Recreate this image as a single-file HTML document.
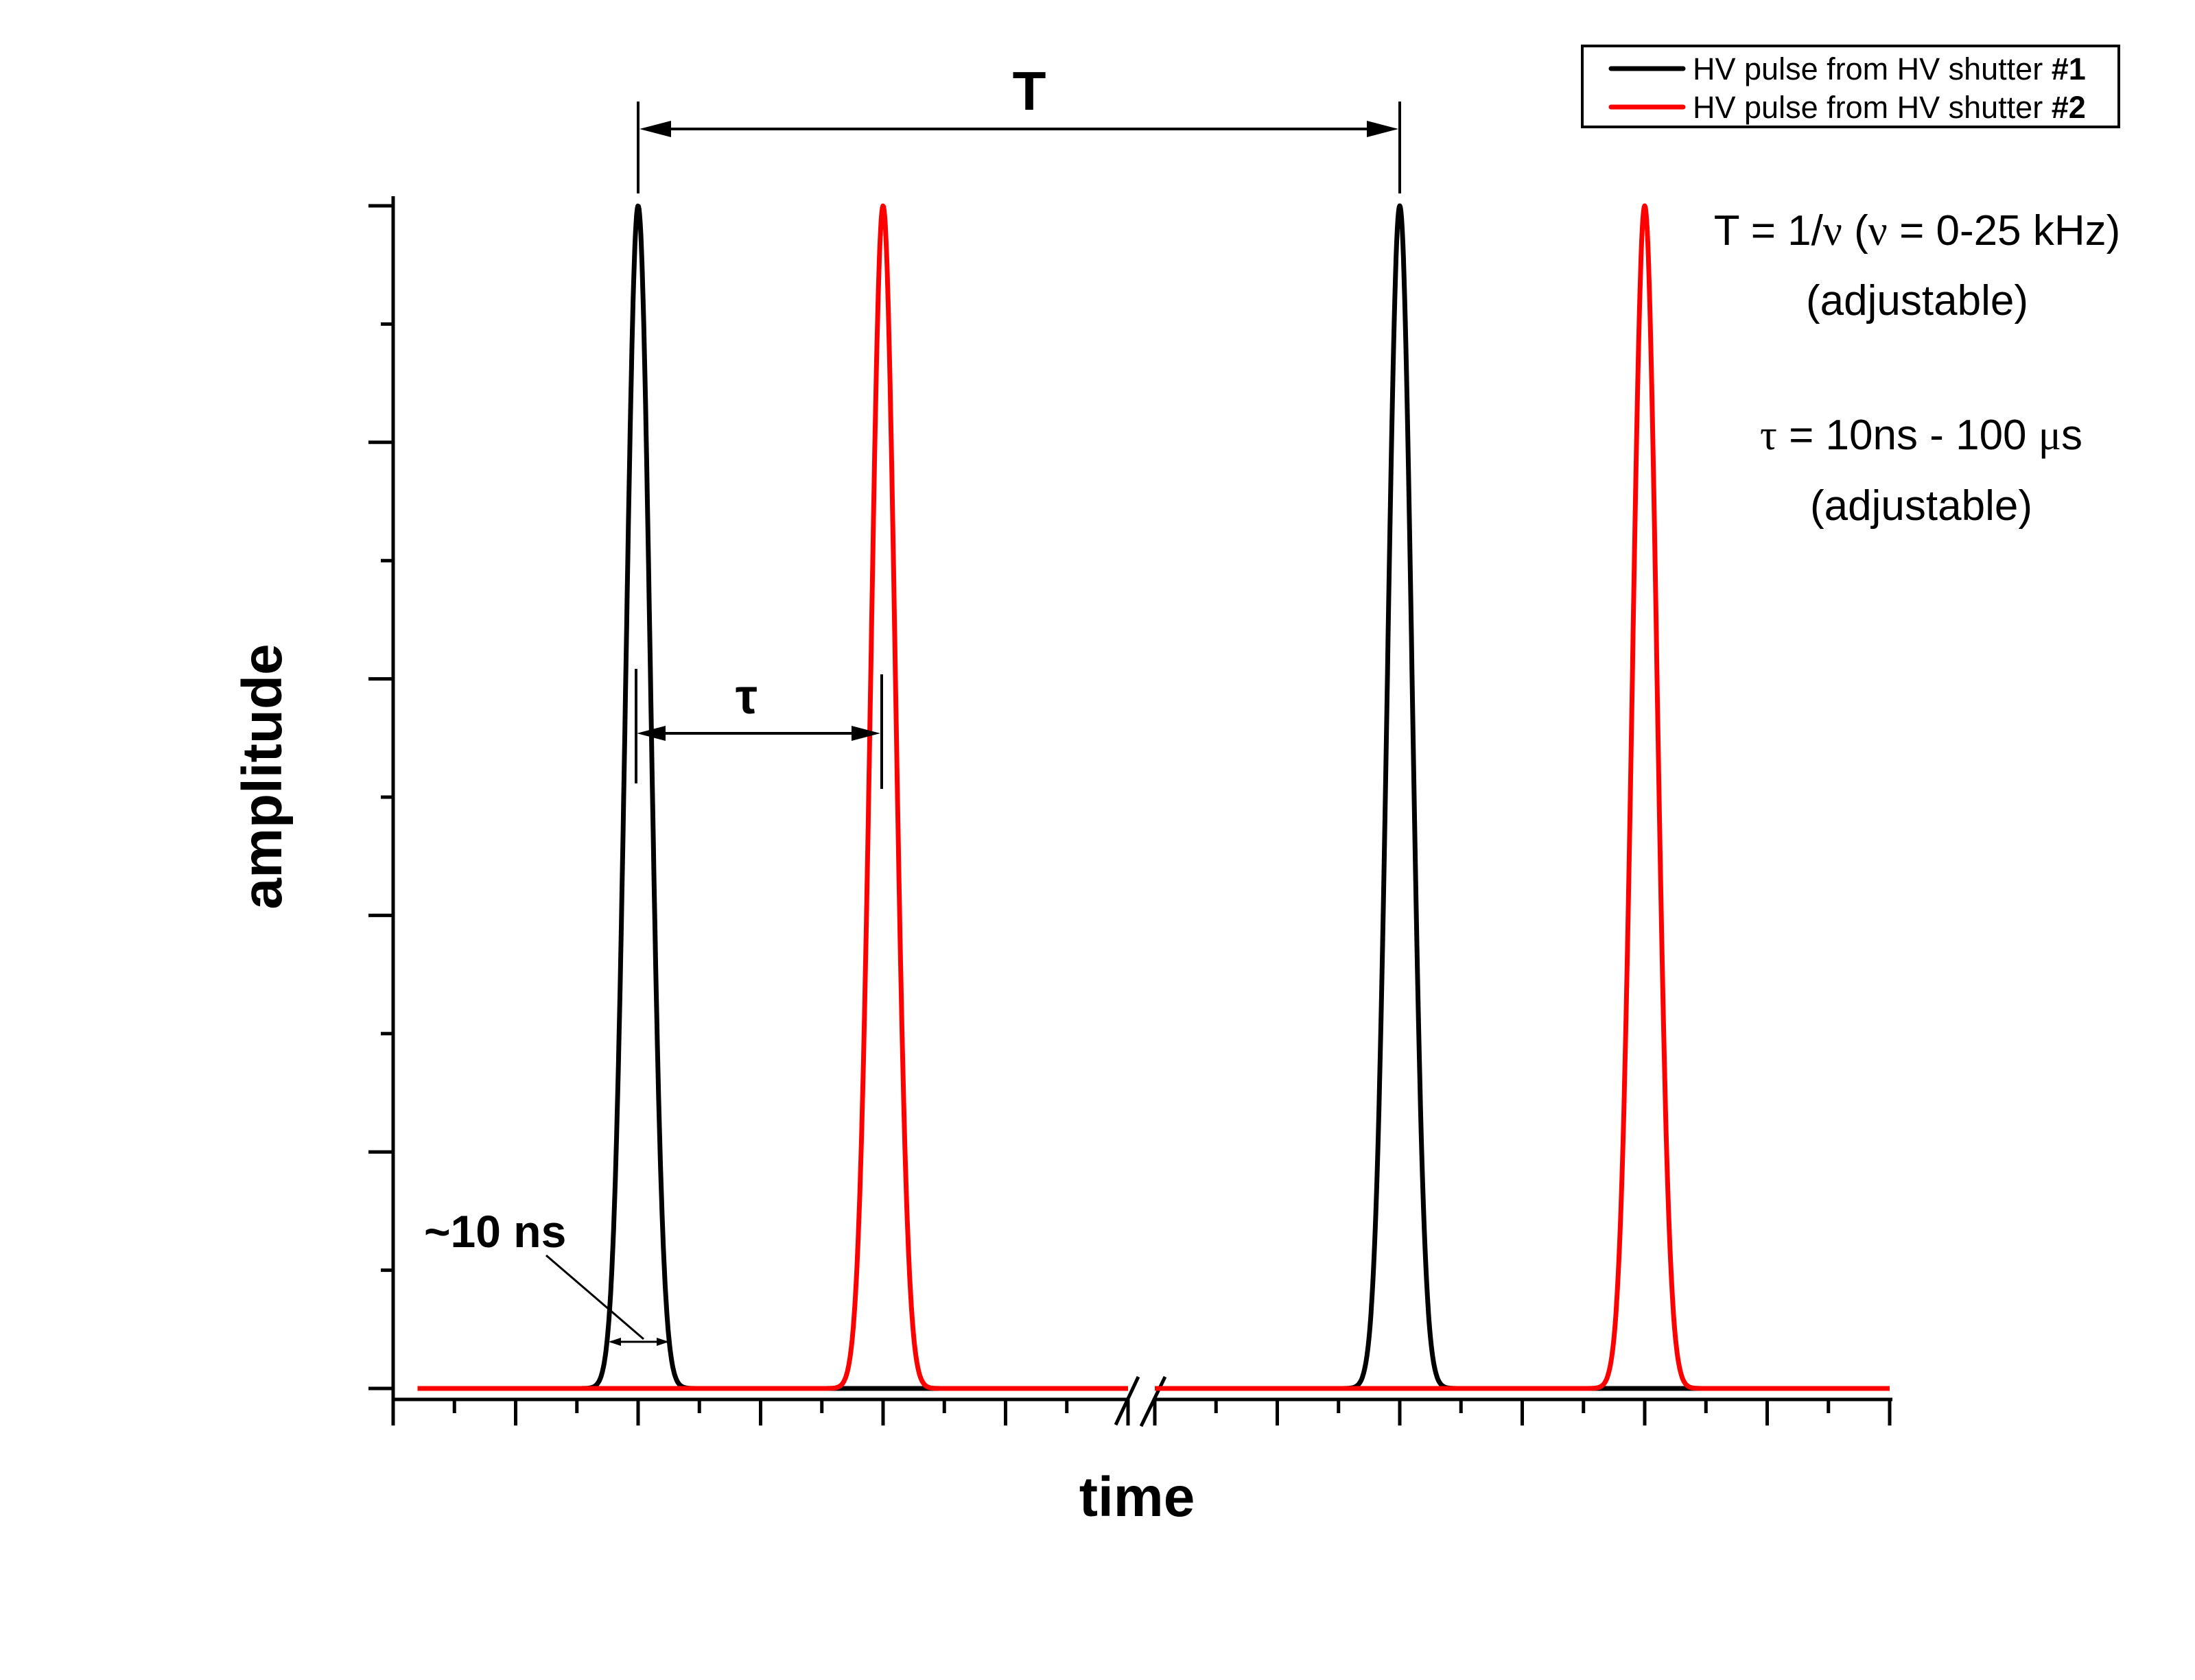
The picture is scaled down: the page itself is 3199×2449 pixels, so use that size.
<!DOCTYPE html>
<html><head><meta charset="utf-8"><style>
html,body{margin:0;padding:0;background:#fff}
svg{display:block}
text{font-family:"Liberation Sans",sans-serif}
</style></head><body>
<svg id="chart" width="3199" height="2449" viewBox="0 0 3199 2449" xmlns="http://www.w3.org/2000/svg">
<rect width="3199" height="2449" fill="#fff"/>
<g id="axes"></g>
<g id="series"></g>
<g id="annot">
  <!-- T period arrow -->
  <line x1="930" y1="148" x2="930" y2="282" stroke="#000" stroke-width="4"/>
  <line x1="2040" y1="148" x2="2040" y2="282" stroke="#000" stroke-width="4"/>
  <line x1="975" y1="188" x2="1995" y2="188" stroke="#000" stroke-width="4"/>
  <polygon points="932,188 978,176 978,200" fill="#000"/>
  <polygon points="2038,188 1992,176 1992,200" fill="#000"/>
  <text x="1500" y="160" font-size="80" font-weight="bold" text-anchor="middle">T</text>
  <!-- tau delay arrow -->
  <line x1="927" y1="975" x2="927" y2="1142" stroke="#000" stroke-width="4"/>
  <line x1="1285" y1="983" x2="1285" y2="1150" stroke="#000" stroke-width="4"/>
  <line x1="960" y1="1069" x2="1250" y2="1069" stroke="#000" stroke-width="4"/>
  <polygon points="928,1069 970,1058 970,1080" fill="#000"/>
  <polygon points="1283,1069 1241,1058 1241,1080" fill="#000"/>
  <text x="1088" y="1040" font-size="72" font-weight="bold" text-anchor="middle" font-family="'DejaVu Serif',serif">τ</text>
  <!-- 10 ns width -->
  <text x="618" y="1818" font-size="66" font-weight="bold">~10 ns</text>
  <line x1="796" y1="1830" x2="938" y2="1952" stroke="#000" stroke-width="3"/>
  <line x1="890" y1="1956" x2="972" y2="1956" stroke="#000" stroke-width="3"/>
  <polygon points="887,1956 905,1950 905,1962" fill="#000"/>
  <polygon points="975,1956 957,1950 957,1962" fill="#000"/>
  <!-- right side text -->
  <text x="2794" y="357" font-size="62" text-anchor="middle">T = 1/<tspan font-family="'Liberation Serif',serif">ν</tspan>  (<tspan font-family="'Liberation Serif',serif">ν</tspan> = 0-25 kHz)</text>
  <text x="2794" y="459" font-size="62" text-anchor="middle">(adjustable)</text>
  <text x="2800" y="655" font-size="62" text-anchor="middle"><tspan font-family="'Liberation Serif',serif">τ</tspan> = 10ns - 100 <tspan font-family="'Liberation Serif',serif">μ</tspan>s</text>
  <text x="2800" y="758" font-size="62" text-anchor="middle">(adjustable)</text>
  <!-- axis titles -->
  <text x="0" y="0" font-size="82" font-weight="bold" text-anchor="middle" transform="translate(410,1132) rotate(-90)">amplitude</text>
  <text x="1657" y="2210" font-size="82" font-weight="bold" text-anchor="middle">time</text>
</g>
<g id="legend">
  <rect x="2306" y="67" width="782" height="118" fill="#fff" stroke="#000" stroke-width="4"/>
  <line x1="2348" y1="100" x2="2453" y2="100" stroke="#000" stroke-width="7" stroke-linecap="round"/>
  <text x="2467" y="116" font-size="45">HV pulse from HV shutter <tspan font-weight="bold">#1</tspan></text>
  <line x1="2348" y1="156" x2="2453" y2="156" stroke="#ff0000" stroke-width="7" stroke-linecap="round"/>
  <text x="2467" y="172" font-size="45">HV pulse from HV shutter <tspan font-weight="bold">#2</tspan></text>
</g>
</svg>
<script>
// ---- data ----
const pulseCenters1 = [2, 9];      // shutter #1 pulse positions (tick units)
const pulseCenters2 = [4, 11];     // shutter #2 pulse positions
const pulseAmps1 = [1, 1];
const pulseAmps2 = [1, 1];
const pulseSigma = [0.1];
const segmentsX = [[0.2, 6], [7, 13]]; // plotted ranges, broken axis
const xMajorTicks = [0, 1, 2, 3, 4, 5, 6, 7, 8, 9, 10, 11, 12, 13];
const yTicks = [0, 0.1, 0.2, 0.3, 0.4, 0.5, 0.6, 0.7, 0.8, 0.9, 1.0];

// ---- scales ----
function xs(v){ return v <= 6.5 ? 573 + 178.5 * v : 1683 + 178.5 * (v - 7); }
function ys(v){ return 2024 - 1724 * v; }

const NS = 'http://www.w3.org/2000/svg';
const axes = document.getElementById('axes');
const series = document.getElementById('series');
function mk(tag, attrs, parent){
  const e = document.createElementNS(NS, tag);
  for (const k in attrs) e.setAttribute(k, attrs[k]);
  parent.appendChild(e);
  return e;
}

// y axis
let yl = mk('line', {x1:573, y1:286, x2:573, y2:2042, stroke:'#000', 'stroke-width':5}, axes);


yTicks.forEach((t, i) => {
  const major = i % 2 === 0;
  const tk = mk('line', {x1: major ? 537 : 555, y1: ys(t), x2: 573, y2: ys(t), stroke:'#000', 'stroke-width':5}, axes);
  
  
});
// x axis segments
[[571, 1644], [1683, 2758]].forEach(s => {
  const l = mk('line', {x1:s[0], y1:2040, x2:s[1], y2:2040, stroke:'#000', 'stroke-width':5}, axes);
  
  
});
xMajorTicks.forEach(t => {
  const tk = mk('line', {x1: xs(t), y1:2040, x2: xs(t), y2:2078, stroke:'#000', 'stroke-width':5}, axes);
  
  
  if (t !== 6 && t !== 13) {
    const m = mk('line', {x1: xs(t + 0.5), y1:2040, x2: xs(t + 0.5), y2:2060, stroke:'#000', 'stroke-width':5}, axes);
    
    
  }
});
// break marks
[[1626, 2077, 1659, 2007], [1663, 2079, 1698, 2007]].forEach(b => {
  const l = mk('line', {x1:b[0], y1:b[1], x2:b[2], y2:b[3], stroke:'#000', 'stroke-width':5}, axes);
  
  
});

// series
function curve(centers, amps, color, name){
  segmentsX.forEach(seg => {
    let d = '';
    const n = 1200;
    for (let i = 0; i <= n; i++){
      const x = seg[0] + (seg[1] - seg[0]) * i / n;
      let y = 0;
      centers.forEach((c, j) => { y += amps[j] * Math.exp(-Math.pow(x - c, 2) / (2 * pulseSigma[0] * pulseSigma[0])); });
      d += (i ? 'L' : 'M') + xs(x).toFixed(1) + ',' + ys(y).toFixed(1);
    }
    const p = mk('path', {d: d, fill:'none', stroke: color, 'stroke-width':7, 'stroke-linejoin':'round'}, series);
    
    
  });
}
curve(pulseCenters1, pulseAmps1, '#000', 'shutter-1-pulse-line');
curve(pulseCenters2, pulseAmps2, '#ff0000', 'shutter-2-pulse-line');
</script>
</body></html>
